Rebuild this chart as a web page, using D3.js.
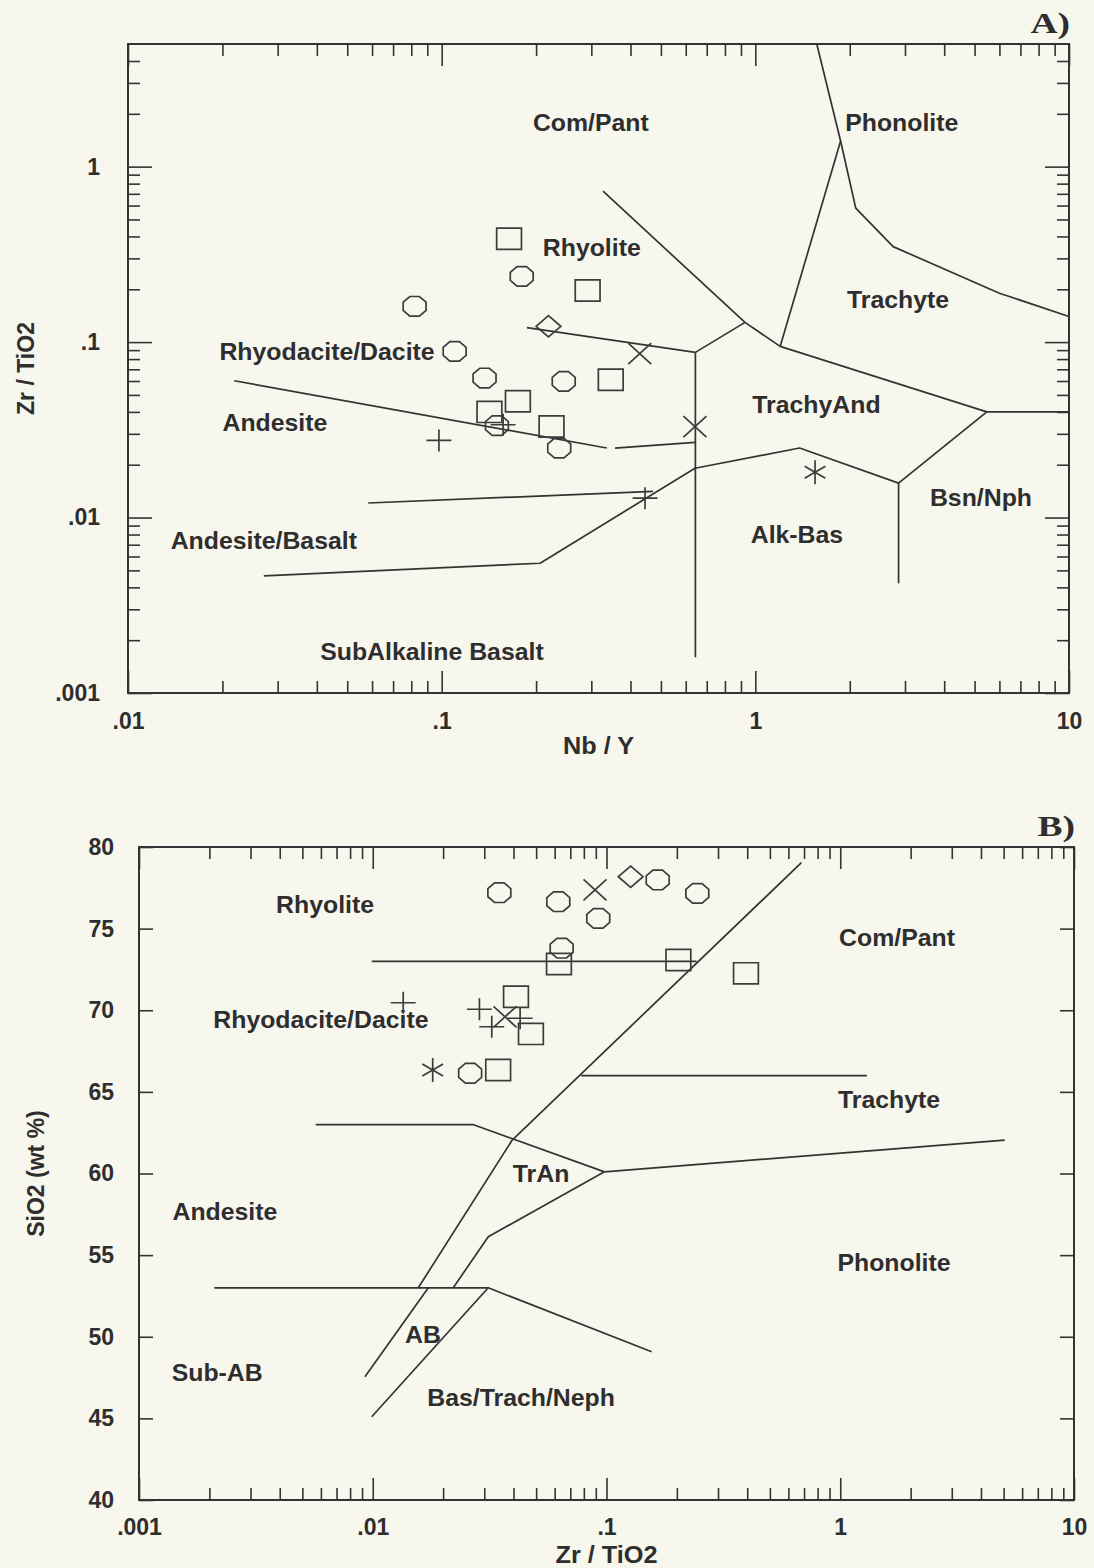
<!DOCTYPE html>
<html>
<head>
<meta charset="utf-8">
<script src="https://cdn.jsdelivr.net/npm/d3@7"></script>
<style>
  html, body { margin: 0; padding: 0; background: #f8f7ee; }
  svg { display: block; }
  text { font-family: "Liberation Sans", Arial, Helvetica, sans-serif; font-weight: bold; fill: #2e2e2e; }
  .panel-tag { font-family: "Liberation Serif", "Times New Roman", serif; font-weight: bold; }
</style>
</head>
<body>
<svg id="fig" width="1094" height="1568"></svg>
<script>
// ---------- Panel A: Zr/TiO2 vs Nb/Y (log-log) ----------
const aSquares  = [[0.164,0.388],[0.292,0.197],[0.175,0.046],[0.142,0.040],[0.224,0.033],[0.346,0.061]];
const aCircles  = [[0.180,0.237],[0.082,0.160],[0.110,0.0885],[0.137,0.0624],[0.245,0.0597],[0.150,0.0334],[0.237,0.0249]];
const aDiamonds = [[0.219,0.123]];
const aCrosses  = [[0.428,0.086],[0.642,0.033]];
const aPluses   = [[0.098,0.0275],[0.157,0.0338],[0.445,0.0129]];
const aStars    = [[1.55,0.0181]];

// field boundaries, each a polyline of [Nb/Y, Zr/TiO2]
const aPhonoliteLine = [[1.57,5.0],[1.87,1.40],[2.09,0.58],[2.75,0.35],[6.0,0.19],[10,0.14]];
const aTrachyteLine  = [[1.87,1.40],[1.20,0.0945]];
const aComPantLine   = [[0.327,0.724],[0.927,0.1295],[1.20,0.0945],[5.47,0.040],[10,0.040]];
const aRhyoShortLine = [[0.927,0.1295],[0.644,0.0874]];
const aRhyoDaciteLine= [[0.187,0.121],[0.644,0.0874]];
const aVerticalLine  = [[0.644,0.0874],[0.644,0.0016]];
const aAndesiteLine1 = [[0.0218,0.0602],[0.336,0.0249]];
const aAndesiteLine2 = [[0.357,0.0249],[0.642,0.0268]];
const aAndBasLine    = [[0.0583,0.0121],[0.472,0.0141]];
const aAlkBasLine    = [[0.0271,0.00465],[0.206,0.00549],[0.642,0.0191],[1.384,0.0249],[2.862,0.0157],[5.47,0.040]];
const aBsnNphLine    = [[2.862,0.0157],[2.862,0.00422]];

const aFieldNames = ["Com/Pant","Phonolite","Rhyolite","Trachyte","Rhyodacite/Dacite","Andesite",
                     "TrachyAnd","Bsn/Nph","Alk-Bas","Andesite/Basalt","SubAlkaline Basalt"];
const aFieldAt    = [[0.299,1.785],[2.93,1.785],[0.301,0.3455],[2.85,0.1745],[0.0431,0.0885],[0.0294,0.0347],
                     [1.566,0.0439],[5.24,0.01296],[1.357,0.00796],[0.0271,0.00739],[0.0931,0.00172]];

const aXTicks = [0.01, 0.1, 1, 10];
const aYTicks = [0.001, 0.01, 0.1, 1];

// ---------- Panel B: SiO2 vs Zr/TiO2 ----------
const bSquares  = [[0.0626,72.83],[0.203,73.08],[0.395,72.26],[0.041,70.83],[0.0475,68.55],[0.0344,66.34]];
const bCircles  = [[0.0348,77.2],[0.0622,76.65],[0.0922,75.63],[0.1656,77.98],[0.2446,77.16],[0.0643,73.8],[0.0261,66.14]];
const bDiamonds = [[0.1269,78.18]];
const bCrosses  = [[0.0893,77.37],[0.0368,69.6]];
const bPluses   = [[0.0135,70.46],[0.0286,70.06],[0.0323,68.99],[0.0427,69.51]];
const bStars    = [[0.01805,66.34]];

const bRhyoliteLine = [[0.0099,73],[0.243,73]];
const bMainLine     = [[0.682,79.04],[0.0395,62.05],[0.01566,53.0]];
const bTrachyteLine = [[0.078,66],[1.30,66]];
const bAndesiteLine = [[0.0057,63],[0.0268,63],[0.098,60.1]];
const bPhonoLine    = [[0.098,60.1],[5.05,62.05]];
const bTrAnLine     = [[0.098,60.1],[0.0312,56.13],[0.0221,53.0]];
const bBasaltLine   = [[0.0021,53],[0.0312,53],[0.156,49.08]];
const bABLeftLine   = [[0.01729,53.0],[0.00926,47.55]];
const bABRightLine  = [[0.0312,53],[0.0099,45.1]];

const bFieldNames = ["Rhyolite","Rhyodacite/Dacite","Com/Pant","Trachyte","TrAn","Andesite",
                     "Phonolite","AB","Sub-AB","Bas/Trach/Neph"];
const bFieldAt    = [[0.00625,76.45],[0.0060,69.4],[1.749,74.41],[1.617,64.5],[0.0525,60.0],[0.00233,57.66],
                     [1.698,54.5],[0.0164,50.1],[0.00216,47.76],[0.0431,46.23]];

const bXTicks = [0.001, 0.01, 0.1, 1, 10];
const bYTicks = [40, 45, 50, 55, 60, 65, 70, 75, 80];

// ---------- drawing ----------
const svg = d3.select("#fig");
const INK = "#333";

function minorLog(lo, hi) {
  const out = [];
  for (let d = lo; d < hi * 0.999; d *= 10) {
    for (let k = 2; k <= 9; k++) { const v = +(d * k).toPrecision(3); if (v < hi * 0.999) out.push(v); }
  }
  return out;
}
const fmtLog = d => String(d).replace(/^0\./, ".");

function styleAxis(g) {
  g.select(".domain").remove();
  g.selectAll(".tick line").attr("stroke", INK).attr("stroke-width", 1.6);
  g.selectAll(".tick text").attr("font-size", 23).attr("fill", "#2e2e2e")
    .attr("font-family", "Liberation Sans, Arial, sans-serif").attr("font-weight", "bold");
}

function symbolPath(kind, cx, cy) {
  const rx = 12.4, ry = 10.6;
  if (kind === "square") {
    return `M${cx-rx},${cy-ry}H${cx+rx}V${cy+ry}H${cx-rx}Z`;
  }
  if (kind === "circle") {
    const p = d3.range(8).map(i => {
      const a = Math.PI / 8 + i * Math.PI / 4;
      return [cx + rx * Math.cos(a), cy + ry * Math.sin(a)];
    });
    return "M" + p.map(q => q.join(",")).join("L") + "Z";
  }
  if (kind === "diamond") {
    return `M${cx-rx},${cy}L${cx},${cy-ry}L${cx+rx},${cy}L${cx},${cy+ry}Z`;
  }
  if (kind === "cross") {
    return `M${cx-11.5},${cy-10.5}L${cx+11.5},${cy+10.5}M${cx-11.5},${cy+10.5}L${cx+11.5},${cy-10.5}`;
  }
  if (kind === "plus") {
    return `M${cx-12.5},${cy}H${cx+12.5}M${cx},${cy-11}V${cy+11}`;
  }
  // asterisk: vertical arm plus two slanted arms
  const r = 12, dx = r * Math.cos(Math.PI / 6), dy = r * Math.sin(Math.PI / 6);
  return `M${cx},${cy-r}V${cy+r}M${cx-dx},${cy-dy}L${cx+dx},${cy+dy}M${cx-dx},${cy+dy}L${cx+dx},${cy-dy}`;
}

function drawPanel(cfg) {
  const { x, y, g } = cfg;
  const [x0, x1] = x.range(), [y0, y1] = y.range(); // y0 bottom, y1 top

  // ticks
  g.append("g").attr("transform", `translate(0,${y0})`)
    .call(d3.axisBottom(x).tickValues(cfg.xMinor).tickSizeInner(-12).tickSizeOuter(0).tickFormat(""))
    .call(styleAxis);
  g.append("g").attr("transform", `translate(0,${y0})`)
    .call(d3.axisBottom(x).tickValues(cfg.xMajor).tickSizeInner(-22).tickSizeOuter(0).tickPadding(cfg.xPad).tickFormat(fmtLog))
    .call(styleAxis);
  g.append("g").attr("transform", `translate(0,${y1})`)
    .call(d3.axisTop(x).tickValues(cfg.xMinor).tickSizeInner(-12).tickSizeOuter(0).tickFormat(""))
    .call(styleAxis);
  g.append("g").attr("transform", `translate(0,${y1})`)
    .call(d3.axisTop(x).tickValues(cfg.xMajor).tickSizeInner(-22).tickSizeOuter(0).tickFormat(""))
    .call(styleAxis);

  if (cfg.yMinor.length) {
    g.append("g").attr("transform", `translate(${x0},0)`)
      .call(d3.axisLeft(y).tickValues(cfg.yMinor).tickSizeInner(-12).tickSizeOuter(0).tickFormat(""))
      .call(styleAxis);
    g.append("g").attr("transform", `translate(${x1},0)`)
      .call(d3.axisRight(y).tickValues(cfg.yMinor).tickSizeInner(-12).tickSizeOuter(0).tickFormat(""))
      .call(styleAxis);
  }
  g.append("g").attr("transform", `translate(${x0},0)`)
    .call(d3.axisLeft(y).tickValues(cfg.yMajor).tickSizeInner(-cfg.yMajorLen).tickSizeOuter(0).tickPadding(cfg.yPad).tickFormat(cfg.yFmt))
    .call(styleAxis);
  g.append("g").attr("transform", `translate(${x1},0)`)
    .call(d3.axisRight(y).tickValues(cfg.yMajor).tickSizeInner(-cfg.yMajorLen).tickSizeOuter(0).tickFormat(""))
    .call(styleAxis);

  // frame
  g.append("rect").attr("x", x0).attr("y", y1).attr("width", x1 - x0).attr("height", y0 - y1)
    .attr("fill", "none").attr("stroke", INK).attr("stroke-width", 2);

  // boundaries
  const line = d3.line().x(d => x(d[0])).y(d => y(d[1]));
  g.append("g").selectAll("path").data(cfg.lines).join("path")
    .attr("d", line).attr("fill", "none").attr("stroke", INK).attr("stroke-width", 1.7)
    .attr("stroke-linejoin", "round");

  // field names
  g.append("g").selectAll("text").data(cfg.names).join("text")
    .attr("transform", (d, i) => `translate(${x(cfg.namesAt[i][0])},${y(cfg.namesAt[i][1])}) scale(1.08,1)`)
    .attr("text-anchor", "middle").attr("dominant-baseline", "central")
    .attr("font-size", 23).text(d => d);

  // samples
  const sym = g.append("g").attr("fill", "none").attr("stroke", "#3c3c3c").attr("stroke-width", 1.7);
  cfg.samples.forEach(([kind, pts]) => {
    sym.selectAll(null).data(pts).join("path")
      .attr("d", d => symbolPath(kind, x(d[0]), y(d[1])));
  });

  // axis titles
  g.append("text").attr("transform", `translate(${(x0 + x1) / 2},${cfg.xTitleY}) scale(1.1,1)`)
    .attr("text-anchor", "middle").attr("dominant-baseline", "central")
    .attr("font-size", 23).text(cfg.xTitle);
  g.append("text")
    .attr("transform", `translate(${cfg.yTitleX},${(y0 + y1) / 2}) rotate(-90)`)
    .attr("text-anchor", "middle").attr("dominant-baseline", "central")
    .attr("font-size", 23).text(cfg.yTitle);

  // panel tag
  g.append("text").attr("class", "panel-tag")
    .attr("transform", `translate(${x1 + 1},${cfg.tagY}) scale(1.25,1)`)
    .attr("text-anchor", "end").attr("font-size", 30).text(cfg.tag);
}

// Panel A
const xA = d3.scaleLog().domain([0.01, 10]).range([128, 1069]);
const yA = d3.scaleLog().domain([0.001, 5]).range([693, 44]);
drawPanel({
  g: svg.append("g"), x: xA, y: yA,
  xMajor: aXTicks, xMinor: minorLog(0.01, 10),
  yMajor: aYTicks, yMinor: minorLog(0.001, 5), yMajorLen: 24, yFmt: fmtLog,
  xPad: 20, yPad: 28,
  lines: [aPhonoliteLine, aTrachyteLine, aComPantLine, aRhyoShortLine, aRhyoDaciteLine, aVerticalLine,
          aAndesiteLine1, aAndesiteLine2, aAndBasLine, aAlkBasLine, aBsnNphLine],
  names: aFieldNames, namesAt: aFieldAt,
  samples: [["square", aSquares], ["circle", aCircles], ["diamond", aDiamonds],
            ["cross", aCrosses], ["plus", aPluses], ["star", aStars]],
  xTitle: "Nb / Y", xTitleY: 746, yTitle: "Zr / TiO2", yTitleX: 26,
  tag: "A)", tagY: 33
});

// Panel B
const xB = d3.scaleLog().domain([0.001, 10]).range([139, 1074]);
const yB = d3.scaleLinear().domain([40, 80]).range([1500, 847]);
drawPanel({
  g: svg.append("g"), x: xB, y: yB,
  xMajor: bXTicks, xMinor: minorLog(0.001, 10),
  yMajor: bYTicks, yMinor: [], yMajorLen: 14, yFmt: d3.format("d"),
  xPad: 19, yPad: 25,
  lines: [bRhyoliteLine, bMainLine, bTrachyteLine, bAndesiteLine, bPhonoLine, bTrAnLine,
          bBasaltLine, bABLeftLine, bABRightLine],
  names: bFieldNames, namesAt: bFieldAt,
  samples: [["square", bSquares], ["circle", bCircles], ["diamond", bDiamonds],
            ["cross", bCrosses], ["plus", bPluses], ["star", bStars]],
  xTitle: "Zr / TiO2", xTitleY: 1555, yTitle: "SiO2 (wt %)", yTitleX: 36,
  tag: "B)", tagY: 836
});
</script>
</body>
</html>
